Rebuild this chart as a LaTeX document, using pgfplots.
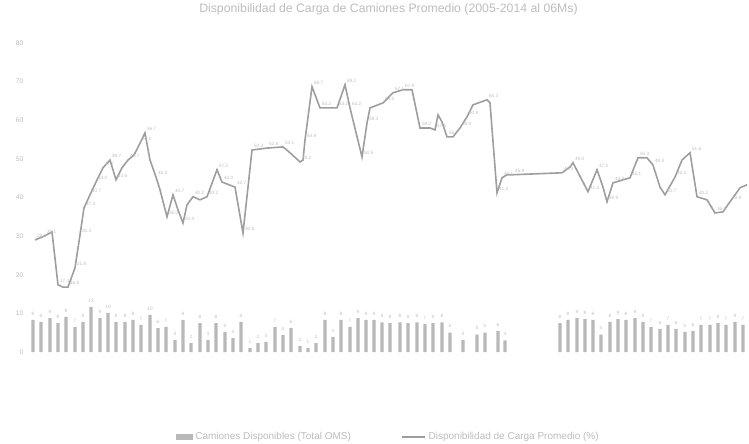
\documentclass[border=0pt]{standalone}
\usepackage{pgfplots}
\pgfplotsset{compat=1.18}
\usepackage{fontspec}
\setmainfont{Liberation Sans}
\definecolor{linegray}{gray}{0.62}
\definecolor{bargray}{gray}{0.72}
\definecolor{txtgray}{gray}{0.74}
\begin{document}
\begin{tikzpicture}
\path[use as bounding box] (0,0) rectangle (561.75pt,-332.25pt);
\begin{axis}[
  at={(21pt,-264pt)}, anchor=south west,
  width=540.75pt, height=231.75pt, scale only axis,
  xmin=28, xmax=749, ymin=0, ymax=80,
  ytick={0,10,...,80}, xtick=\empty,
  axis line style={draw=none}, major tick length=0pt,
  /pgf/number format/assume math mode=true,
  yticklabel style={font=\fontsize{5}{6}\selectfont, text=txtgray},
  title={Disponibilidad de Carga de Camiones Promedio (2005-2014 al 06Ms)},
  title style={font=\fontsize{9.2}{10}\selectfont, text=txtgray, at={(0.5,1)}, anchor=center, yshift=19.5pt},
  legend style={at={(0.5,-0.275)}, anchor=center, draw=none, font=\fontsize{7.5}{8}\selectfont, text=txtgray, legend columns=2, /tikz/every even column/.append style={column sep=36pt}},
  clip=false,
]
\addplot[ybar, bar width=2.4pt, fill=bargray, draw=none,
  nodes near coords, /pgf/number format/precision=0,
  every node near coord/.append style={font=\fontsize{3.5}{4}\selectfont, text=txtgray},
  legend image code/.code={\fill[bargray] (0cm,-0.09cm) rectangle (0.45cm,0.09cm);}]
coordinates {
(33,8.3) (41,7.8) (50,8.8) (58,7.5) (66,9.1) (75,6.5) (83,7.8) (91,11.7) (100,8.8) (108,10.1)
(116,7.8) (125,7.8) (133,8.3) (141,7.0) (150,9.6) (158,6.2) (166,6.5) (175,3.1) (183,8.3) (191,2.3)
(200,7.5) (208,3.1) (216,7.5) (225,5.2) (233,3.6) (241,7.8) (250,1.0) (258,2.3) (266,2.6) (275,6.5)
(283,4.4) (291,6.2) (300,1.6) (308,1.0) (316,2.3) (325,8.3) (333,3.9) (341,8.3) (350,6.5) (358,8.8)
(366,8.3) (374,8.3) (382,7.7) (390,7.5) (400,7.7) (408,7.5) (417,7.7) (425,7.2) (433,7.5) (442,7.7)
(450,5.0) (463,3.1) (477,4.5) (485,5.0) (498,5.5) (505,3.0)
(560,7.5) (568,8.3) (577,8.8) (585,8.5) (593,8.3) (601,4.5) (610,7.8) (618,8.5) (626,8.3) (635,8.8)
(643,7.8) (651,6.5) (660,6.0) (668,7.0) (676,6.0) (685,5.2) (693,5.5) (701,7.0) (710,7.0) (718,7.5)
(726,7.0) (735,7.8) (743,7.0)
};
\addlegendentry{Camiones Disponibles (Total OMS)}
\addplot[linegray, line width=1.2pt, mark=none,
  point meta=explicit symbolic, nodes near coords,
  every node near coord/.append style={font=\fontsize{3.5}{4}\selectfont, text=txtgray, anchor=south west, inner sep=1pt}]
coordinates {
(35,29.0) [29.0] (45,30.1) [30.1] (52,31.1) [] (58,17.4) [17.4] (63,16.8) [] (68,16.8) [16.8]
(75,21.8) [21.8] (80,30.3) [30.3] (84,37.3) [37.3] (90,40.7) [40.7] (96,44.0) [44.0] (103,47.7) [47.7]
(110,49.7) [49.7] (116,44.6) [44.6] (122,47.7) [] (128,49.7) [49.7] (134,51.0) [] (140,54.1) [54.1]
(145,56.7) [56.7] (150,49.7) [] (156,45.3) [45.3] (160,42.0) [] (167,35.0) [35.0] (173,40.7) [40.7]
(178,36.8) [] (183,33.4) [33.4] (187,38.1) [] (193,40.2) [40.2] (200,39.4) [] (207,40.2) [40.2]
(217,47.2) [47.2] (222,44.0) [44.0] (235,42.7) [42.7] (243,30.8) [30.8] (248,42.7) [] (252,52.3) [52.3]
(267,52.8) [52.8] (283,53.1) [53.1] (290,51.6) [] (300,49.2) [49.2] (303,49.7) [] (305,54.9) [54.9]
(312,68.7) [68.7] (320,63.2) [63.2] (337,63.2) [63.2] (345,69.2) [69.2] (350,63.2) [63.2] (362,50.5) [50.5]
(367,59.3) [59.3] (370,63.2) [] (383,64.5) [64.5] (393,67.1) [67.1] (403,67.9) [67.9] (412,67.9) []
(420,58.0) [58.0] (430,58.0) [] (435,57.5) [57.5] (438,61.4) [] (442,59.6) [] (447,55.7) [55.7]
(453,55.7) [] (460,58.0) [58.0] (467,60.9) [60.9] (473,64.0) [] (487,65.3) [65.3] (490,64.5) []
(497,41.2) [41.2] (502,45.1) [45.1] (507,45.9) [] (513,45.9) [45.9]
(562,46.4) [46.4] (570,47.9) [] (573,49.0) [49.0] (588,41.5) [41.5] (597,47.2) [47.2] (603,42.7) []
(607,38.9) [38.9] (613,43.8) [43.8] (630,45.1) [45.1] (638,50.3) [50.3] (647,50.3) [] (653,48.4) [48.4]
(660,42.7) [] (665,40.7) [40.7] (675,45.3) [45.3] (682,49.7) [] (690,51.6) [51.6] (697,40.2) [40.2]
(707,39.4) [] (715,36.0) [36.0] (723,36.3) [] (730,38.9) [38.9] (740,42.5) [] (747,43.3) []
};
\addlegendentry{Disponibilidad de Carga Promedio (\%)}
\end{axis}
\end{tikzpicture}
\end{document}
